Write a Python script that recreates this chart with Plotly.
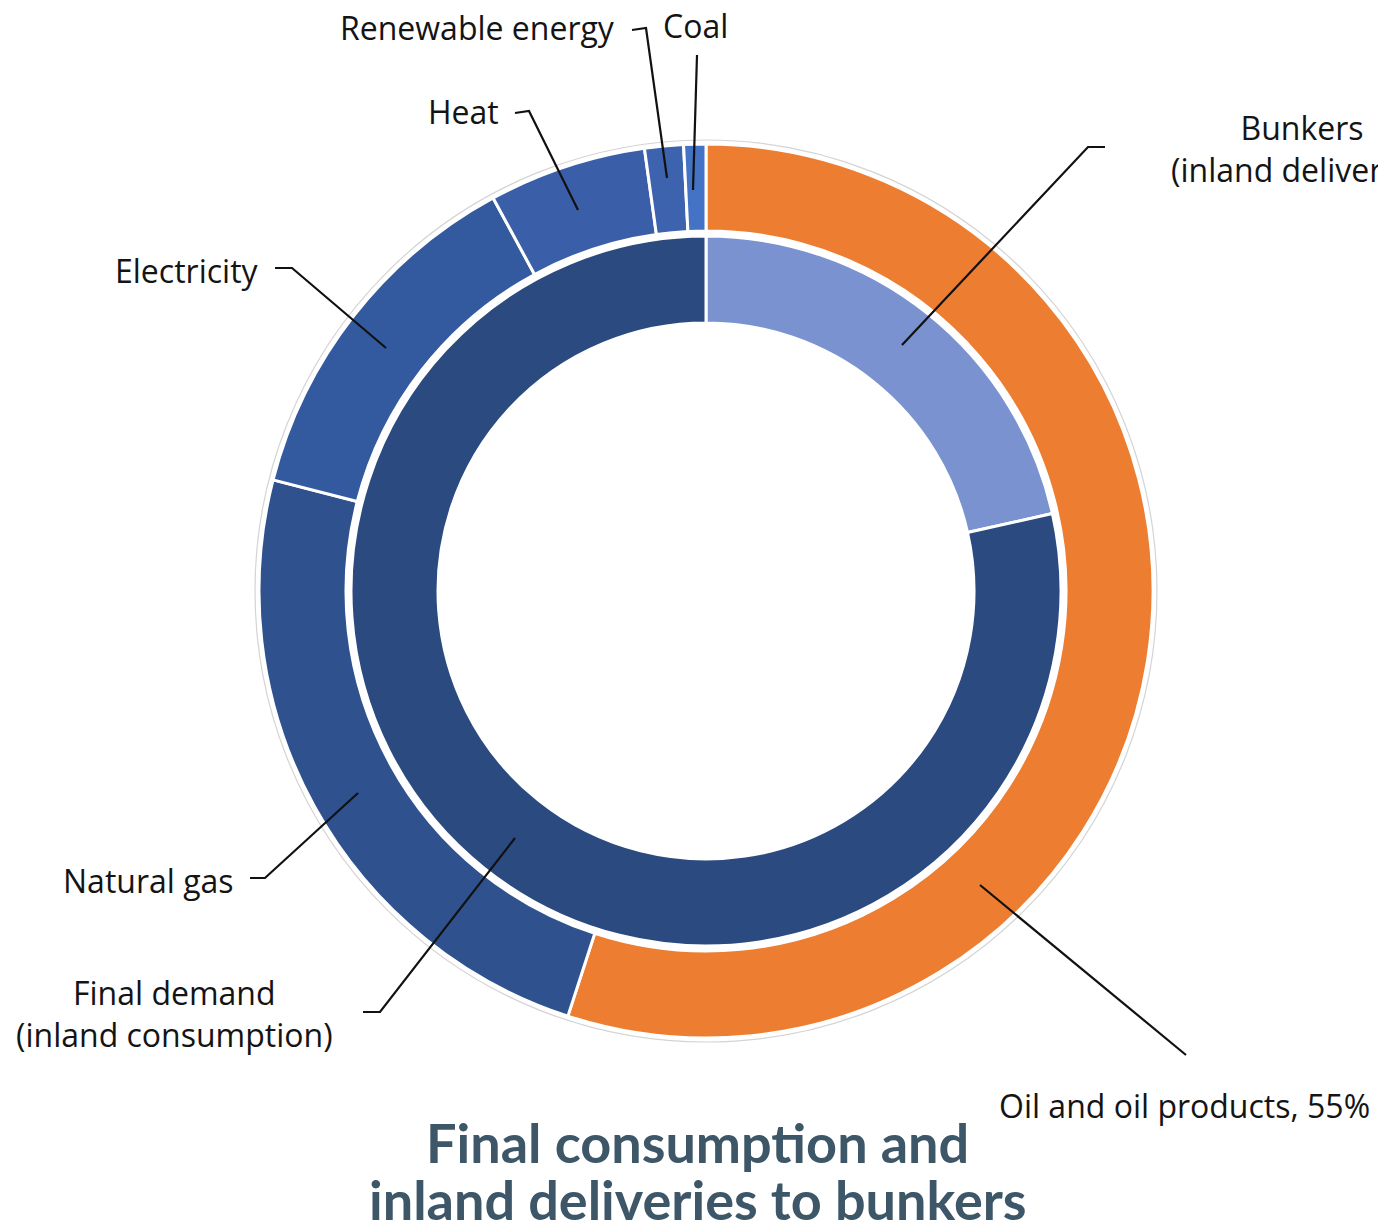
import plotly.graph_objects as go

W, H = 1378, 1227

# Outer ring: final consumption by energy product (% share)
outer_labels = ["Oil and oil products", "Natural gas", "Electricity", "Heat",
                "Renewable energy", "Coal"]
outer_values = [55.0, 24.0, 13.1, 5.7, 1.4, 0.8]
outer_colors = ["#ED7D31", "#2F528F", "#33599E", "#3A5FA8", "#3D63AE", "#4472C4"]

# Inner ring: final demand vs. inland deliveries to bunkers (% share)
inner_labels = ["Bunkers (inland deliveries)", "Final demand (inland consumption)"]
inner_values = [21.5, 78.5]
inner_colors = ["#7B92D0", "#2B4A80"]

title_lines = ["Final consumption and", "inland deliveries to bunkers"]

# Geometry in pixels
CX, CY = 706, 591
R_OUT, R_OUT_IN = 447, 360
R_IN, R_IN_IN = 355, 268


def px(x):
    return x / W


def py(y):
    return 1 - y / H


def domain(r):
    return dict(x=[px(CX - r), px(CX + r)], y=[py(CY + r), py(CY - r)])


fig = go.Figure()
fig.add_trace(go.Pie(
    labels=outer_labels, values=outer_values, sort=False, direction="clockwise",
    rotation=0, hole=R_OUT_IN / R_OUT, domain=domain(R_OUT),
    marker=dict(colors=outer_colors, line=dict(color="white", width=3)),
    textinfo="none", hoverinfo="label+percent", showlegend=False,
))
fig.add_trace(go.Pie(
    labels=inner_labels, values=inner_values, sort=False, direction="clockwise",
    rotation=0, hole=R_IN_IN / R_IN, domain=domain(R_IN),
    marker=dict(colors=inner_colors, line=dict(color="white", width=3)),
    textinfo="none", hoverinfo="label+percent", showlegend=False,
))

shapes = []
# faint outline around the outer ring
RG = 451
shapes.append(dict(type="circle", xref="paper", yref="paper",
                   x0=px(CX - RG), x1=px(CX + RG), y0=py(CY + RG), y1=py(CY - RG),
                   line=dict(color="#d4d4d4", width=1.2), layer="below"))


def leader(points):
    d = "M " + " L ".join(f"{px(x):.5f},{py(y):.5f}" for x, y in points)
    shapes.append(dict(type="path", xref="paper", yref="paper", path=d,
                       line=dict(color="#111111", width=2.2)))


leader([(632, 30), (646, 28), (667, 178)])      # Renewable energy
leader([(697, 55), (693, 190)])                 # Coal
leader([(515, 113), (529, 111), (578, 210)])    # Heat
leader([(275, 268), (292, 268), (386, 348)])    # Electricity
leader([(250, 878), (265, 878), (358, 793)])    # Natural gas
leader([(363, 1012), (380, 1012), (515, 838)])  # Final demand
leader([(1186, 1055), (980, 885)])              # Oil
leader([(1105, 147), (1088, 147), (902, 345)])  # Bunkers

FONT = "Open Sans"
LBL = dict(family=FONT, size=32, color="#141414")

annotations = []


def label(text, x, y, xanchor, align="left"):
    annotations.append(dict(text=text, x=px(x), y=py(y), xref="paper", yref="paper",
                            xanchor=xanchor, yanchor="middle", showarrow=False,
                            font=LBL, align=align))


label("Renewable energy", 617, 28, "right")
label("Coal", 661, 26, "left")
label("Heat", 501, 112, "right")
label("Electricity", 261, 270, "right")
label("Natural gas", 236, 880, "right")
label("Final demand<br>(inland consumption)", 174, 1013, "center", "center")
label("Oil and oil products, 55%", 997, 1105, "left")
label("Bunkers<br>(inland deliveries)", 1302, 148, "center", "center")

# two-line title, each line placed on its own for tight line spacing
for line, yc in zip(title_lines, [1142, 1199]):
    annotations.append(dict(
        text="<b>" + line + "</b>", x=px(698), y=py(yc),
        xref="paper", yref="paper", xanchor="center", yanchor="middle",
        showarrow=False, font=dict(family="Lato", size=54, color="#3D5768"),
    ))

fig.update_layout(
    width=W, height=H, margin=dict(l=0, r=0, t=0, b=0),
    paper_bgcolor="white", plot_bgcolor="white",
    shapes=shapes, annotations=annotations,
)

fig.write_html("out.html")
